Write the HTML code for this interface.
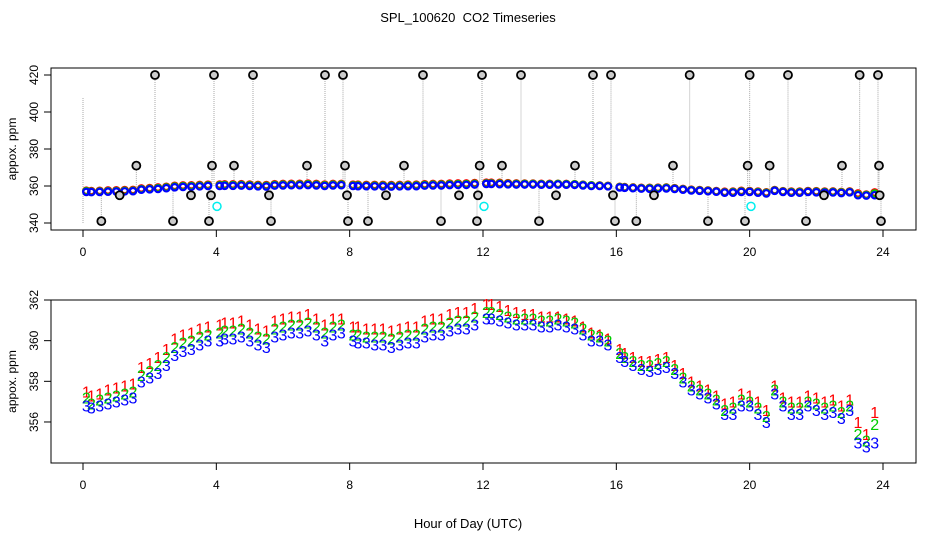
<!DOCTYPE html>
<html><head><meta charset="utf-8"><style>
body{margin:0;background:#fff}
svg{display:block;font-family:"Liberation Sans",sans-serif}
</style></head><body>
<svg id="c" width="936" height="540">
<text x="468" y="22" text-anchor="middle" font-size="13" style="white-space:pre">SPL_100620  CO2 Timeseries</text>
<text x="468" y="528" text-anchor="middle" font-size="13">Hour of Day (UTC)</text>
<g id="top"></g>
<g id="bot"></g>
</svg>
<script>
const hours=[0.1,0.25,0.5,0.75,1,1.25,1.5,1.75,2,2.25,2.5,2.75,3,3.25,3.5,3.75,
4.1,4.25,4.5,4.75,5,5.25,5.5,5.75,6,6.25,6.5,6.75,7,7.25,7.5,7.75,
8.1,8.25,8.5,8.75,9,9.25,9.5,9.75,10,10.25,10.5,10.75,11,11.25,11.5,11.75,
12.1,12.25,12.5,12.75,13,13.25,13.5,13.75,14,14.25,14.5,14.75,15,15.25,15.5,15.75,
16.1,16.25,16.5,16.75,17,17.25,17.5,17.75,18,18.25,18.5,18.75,19,19.25,19.5,19.75,
20,20.25,20.5,20.75,21,21.25,21.5,21.75,22,22.25,22.5,22.75,23,23.25,23.5,23.75];
const series3=[356.8,356.7,356.8,356.9,357.0,357.1,357.2,358.0,358.2,358.4,358.8,359.3,359.5,359.6,359.8,360.0,
360.0,360.1,360.1,360.2,360.0,359.8,359.7,360.2,360.3,360.4,360.4,360.5,360.3,360.0,360.3,360.4,
360.0,359.9,359.9,359.8,359.8,359.7,359.8,359.9,359.9,360.2,360.3,360.3,360.5,360.6,360.6,360.8,
361.1,361.1,361.0,360.9,360.8,360.8,360.8,360.7,360.7,360.8,360.7,360.6,360.3,360.0,360.0,359.8,
359.2,359.0,358.8,358.6,358.5,358.6,358.7,358.4,358.0,357.6,357.4,357.2,356.9,356.4,356.4,356.8,
356.8,356.4,356.0,357.4,356.8,356.4,356.4,356.8,356.6,356.4,356.5,356.2,356.6,355.0,354.8,355.0];
const series2=[357.2,356.9,357.1,357.2,357.3,357.4,357.5,358.3,358.5,358.8,359.2,359.7,359.9,360.0,360.2,360.3,
360.4,360.5,360.5,360.6,360.4,360.2,360.1,360.6,360.7,360.8,360.8,360.9,360.7,360.4,360.7,360.8,
360.3,360.3,360.2,360.2,360.2,360.1,360.2,360.3,360.3,360.6,360.7,360.7,360.9,361.0,361.0,361.2,
361.4,361.4,361.3,361.2,361.1,361.1,361.1,361.0,361.0,361.1,361.0,360.9,360.6,360.3,360.2,360.0,
359.4,359.2,359.0,358.8,358.8,358.9,359.0,358.6,358.2,357.8,357.6,357.4,357.1,356.6,356.7,357.1,
357.0,356.7,356.3,357.6,357.0,356.7,356.7,357.0,356.9,356.7,356.8,356.5,356.8,355.4,355.1,355.9];
const series1=[357.5,357.3,357.4,357.6,357.7,357.8,357.9,358.7,358.9,359.2,359.6,360.1,360.3,360.4,360.6,360.7,
360.8,360.9,360.9,361.0,360.8,360.6,360.5,361.0,361.1,361.2,361.2,361.3,361.1,360.8,361.1,361.1,
360.7,360.7,360.6,360.6,360.6,360.5,360.6,360.7,360.7,361.0,361.1,361.1,361.3,361.4,361.4,361.6,
361.8,361.8,361.7,361.5,361.4,361.3,361.3,361.2,361.2,361.2,361.1,361.0,360.7,360.4,360.3,360.1,
359.6,359.4,359.2,359.0,359.0,359.1,359.2,358.8,358.4,358.0,357.8,357.6,357.3,356.9,357.0,357.4,
357.3,357.0,356.6,357.8,357.2,357.0,357.0,357.3,357.2,357.0,357.1,356.8,357.1,356.0,355.4,356.5];
const outHours=[2.16,3.93,5.1,7.26,7.8,10.2,11.97,13.14,15.3,15.84,18.2,20.0,21.15,23.3,23.85,
1.6,3.87,4.53,6.72,7.86,9.63,11.9,12.57,14.76,17.7,19.94,20.6,22.77,23.88,
1.1,3.24,3.84,5.58,7.92,9.09,11.28,11.85,14.19,15.9,17.13,22.23,23.9,
0.55,2.7,3.78,5.64,7.95,8.55,10.74,11.82,13.68,15.96,16.6,18.75,19.86,21.69,23.94];
const outValues=[420,420,420,420,420,420,420,420,420,420,420,420,420,420,420,
371,371,371,371,371,371,371,371,371,371,371,371,371,371,
355,355,355,355,355,355,355,355,355,355,355,355,355,
341,341,341,341,341,341,341,341,341,341,341,341,341,341,341];
const cyanHours=[4.02,12.03,20.04];
const cyanValues=[349,349,349];
const xTicks=[0,4,8,12,16,20,24];
const topTicks=[340,360,380,400,420];
const botTicks=[356,358,360,362];

const NS="http://www.w3.org/2000/svg";
function mk(p,t,a){const e=document.createElementNS(NS,t);for(const k in a)e.setAttribute(k,a[k]);p.appendChild(e);return e;}
const L=51,R=916;
const xS=h=>83+h*33.333;
const yT=v=>75+(420-v)*1.85;
const yB=v=>300+(362-v)*20.33;
function baseline(h){let best=0;for(let i=0;i<hours.length;i++)if(Math.abs(hours[i]-h)<Math.abs(hours[best]-h))best=i;return series3[best];}

function axes(g,top,bot,ticks,yf,pre){
  const b=mk(g,'rect',{x:L,y:top,width:R-L,height:bot-top,fill:'none',stroke:'#000'});
  
  
  mk(g,'line',{x1:xS(0),x2:xS(24),y1:bot,y2:bot,stroke:'#000'});
  xTicks.forEach(t=>{
    mk(g,'line',{x1:xS(t),x2:xS(t),y1:bot,y2:bot+7,stroke:'#000'});
    const tx=mk(g,'text',{x:xS(t),y:bot+26,'text-anchor':'middle','font-size':12});
    tx.textContent=t;
    
    
  });
  ticks.forEach(t=>{
    const y=yf(t);
    mk(g,'line',{x1:L,x2:L-7,y1:y,y2:y,stroke:'#000'});
    const tx=mk(g,'text',{x:38,y:y,'text-anchor':'middle','font-size':12,transform:`rotate(-90 38 ${y})`});
    tx.textContent=t;
    
    
  });
  const yt=mk(g,'text',{x:16,y:(top+bot)/2,'text-anchor':'middle','font-size':12,transform:`rotate(-90 16 ${(top+bot)/2})`});
  yt.textContent='appox. ppm';
  
  
}

const gt=document.getElementById('top');
axes(gt,68,230,topTicks,yT,'top');
outHours.forEach((h,i)=>{
  mk(gt,'line',{x1:xS(h),x2:xS(h),y1:yT(baseline(h)),y2:yT(outValues[i]),stroke:'#aaa','stroke-dasharray':'1 1'});
});
mk(gt,'line',{x1:xS(0),x2:xS(0),y1:yT(340),y2:yT(408),stroke:'#aaa','stroke-dasharray':'1 1'});
[[series1,'#f00'],[series2,'#0c0'],[series3,'#00f']].forEach(([s,c])=>{
  hours.forEach((h,i)=>{
    const p=mk(gt,'circle',{cx:xS(h),cy:yT(s[i]),r:3.2,fill:'none',stroke:c,'stroke-width':2.2});
    
    
  });
});
outHours.forEach((h,i)=>{
  const x=xS(h),y=yT(outValues[i]);
  const p=mk(gt,'circle',{cx:x,cy:y,r:4,fill:'#ccc',stroke:'#000','stroke-width':1.8});
  
  
});
cyanHours.forEach((h,i)=>{
  const p=mk(gt,'circle',{cx:xS(h),cy:yT(cyanValues[i]),r:4,fill:'none',stroke:'#0ee','stroke-width':1.5});
  
  
});

const gb=document.getElementById('bot');
axes(gb,300,463,botTicks,yB,'bottom');
[[series1,'#f00','1'],[series2,'#0c0','2'],[series3,'#00f','3']].forEach(([s,c,l])=>{
  hours.forEach((h,i)=>{
    const t=mk(gb,'text',{x:xS(h),y:yB(s[i])+6,'text-anchor':'middle','font-size':16,fill:c});
    t.textContent=l;
    
    
  });
});
</script>
</body></html>
